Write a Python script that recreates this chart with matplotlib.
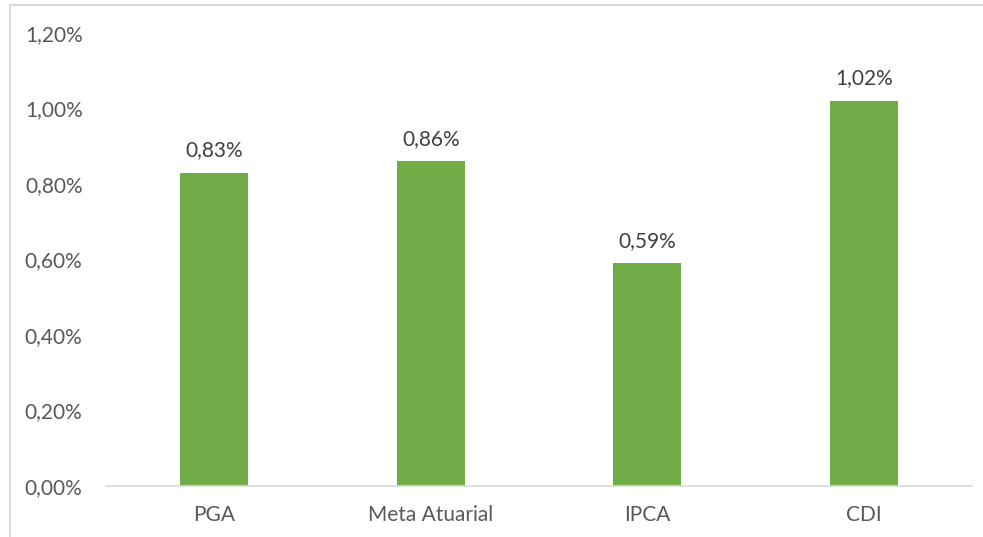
import matplotlib.pyplot as plt
from matplotlib.lines import Line2D

categories = ['PGA', 'Meta Atuarial', 'IPCA', 'CDI']
values = [0.83, 0.86, 0.59, 1.02]
yticks = [0.0, 0.2, 0.4, 0.6, 0.8, 1.0, 1.2]

plt.rcParams['font.family'] = ['Lato', 'DejaVu Sans']

fig = plt.figure(figsize=(9.83, 5.37), dpi=100)
ax = fig.add_axes([0.108, 0.095, 0.881, 0.8435])

x = range(len(categories))
ax.bar(x, values, width=0.314, color='#70AD47')

for i, v in zip(x, values):
    ax.text(i, v + 0.033, f'{v:.2f}%'.replace('.', ','), ha='center', va='bottom',
            fontsize=15, color='#404040')

ax.set_xlim(-0.5, len(categories) - 0.5)
ax.set_ylim(0, 1.2)
ax.set_yticks(yticks)
ax.set_yticklabels([f'{t:.2f}%'.replace('.', ',') for t in yticks])
ax.set_xticks(list(x))
ax.set_xticklabels(categories)
ax.tick_params(axis='both', length=0, labelsize=15, labelcolor='#595959')
ax.tick_params(axis='y', pad=17)
ax.tick_params(axis='x', pad=14)

for s in ['top', 'right', 'left']:
    ax.spines[s].set_visible(False)
ax.spines['bottom'].set_color('#D9D9D9')
ax.spines['bottom'].set_linewidth(1.2)

# chart border (left and top visible)
fig.add_artist(Line2D([10 / 983, 10 / 983], [0, 1 - 5 / 537], transform=fig.transFigure,
                      color='#D9D9D9', linewidth=1.5))
fig.add_artist(Line2D([10 / 983, 1], [1 - 5 / 537, 1 - 5 / 537], transform=fig.transFigure,
                      color='#D9D9D9', linewidth=1.5))

fig.savefig('out.png', dpi=100)
